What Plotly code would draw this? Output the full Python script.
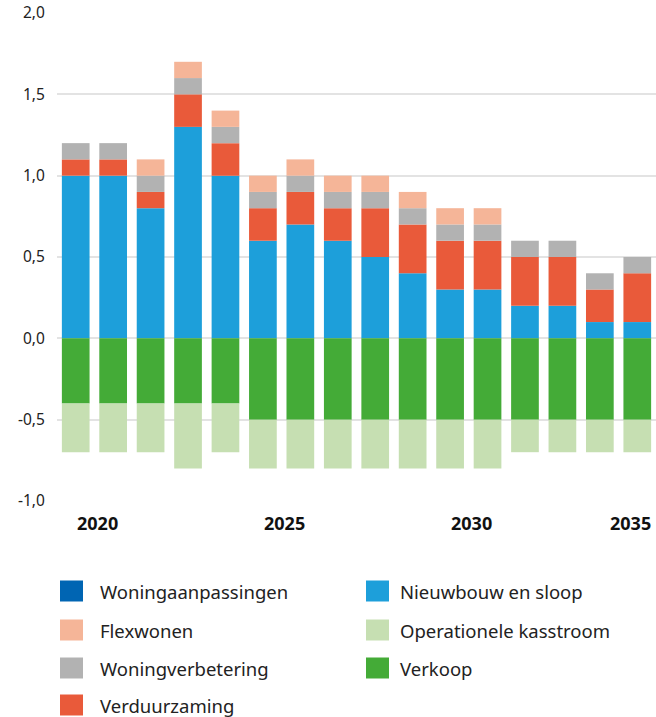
import plotly.graph_objects as go

jaren = list(range(2020, 2036))

nieuwbouw_en_sloop = [1.0, 1.0, 0.8, 1.3, 1.0, 0.6, 0.7, 0.6, 0.5, 0.4, 0.3, 0.3, 0.2, 0.2, 0.1, 0.1]
verduurzaming = [0.1, 0.1, 0.1, 0.2, 0.2, 0.2, 0.2, 0.2, 0.3, 0.3, 0.3, 0.3, 0.3, 0.3, 0.2, 0.3]
woningverbetering = [0.1, 0.1, 0.1, 0.1, 0.1, 0.1, 0.1, 0.1, 0.1, 0.1, 0.1, 0.1, 0.1, 0.1, 0.1, 0.1]
flexwonen = [0.0, 0.0, 0.1, 0.1, 0.1, 0.1, 0.1, 0.1, 0.1, 0.1, 0.1, 0.1, 0.0, 0.0, 0.0, 0.0]
woningaanpassingen = [0.0] * 16
verkoop = [-0.4, -0.4, -0.4, -0.4, -0.4, -0.5, -0.5, -0.5, -0.5, -0.5, -0.5, -0.5, -0.5, -0.5, -0.5, -0.5]
operationele_kasstroom = [-0.3, -0.3, -0.3, -0.4, -0.3, -0.3, -0.3, -0.3, -0.3, -0.3, -0.3, -0.3, -0.2, -0.2, -0.2, -0.2]

x_labels = [2020, 2025, 2030, 2035]
y_ticks = [-1.0, -0.5, 0.0, 0.5, 1.0, 1.5, 2.0]
y_labels = ['-1,0', '-0,5', '0,0', '0,5', '1,0', '1,5', '2,0']

colors = {
    'Woningaanpassingen': '#0065b3',
    'Nieuwbouw en sloop': '#1d9fda',
    'Verduurzaming': '#e95a3a',
    'Woningverbetering': '#b2b2b2',
    'Flexwonen': '#f5b598',
    'Verkoop': '#44ab37',
    'Operationele kasstroom': '#c6dfb2',
}

# stapelvolgorde, van de nullijn af
series = [
    ('Nieuwbouw en sloop', nieuwbouw_en_sloop),
    ('Woningaanpassingen', woningaanpassingen),
    ('Verduurzaming', verduurzaming),
    ('Woningverbetering', woningverbetering),
    ('Flexwonen', flexwonen),
    ('Verkoop', verkoop),
    ('Operationele kasstroom', operationele_kasstroom),
]

legenda_links = ['Woningaanpassingen', 'Flexwonen', 'Woningverbetering', 'Verduurzaming']
legenda_rechts = ['Nieuwbouw en sloop', 'Operationele kasstroom', 'Verkoop']

W, H = 656, 717
L, R, T, B = 57, 0, 13, 216
font = "Noto Sans"

fig = go.Figure()
for naam, waarden in series:
    fig.add_trace(go.Bar(x=jaren, y=waarden, name=naam, showlegend=False,
                         marker=dict(color=colors[naam], line=dict(width=0))))

fig.update_layout(
    width=W, height=H,
    barmode='relative', bargap=0.26,
    paper_bgcolor='white', plot_bgcolor='white',
    margin=dict(l=L, r=R, t=T, b=B, autoexpand=False),
    font=dict(family=font, color='#222222'),
    showlegend=False,
    xaxis=dict(range=[2019.5, 2035.5], showticklabels=False, showgrid=False,
               zeroline=False, ticks=''),
    yaxis=dict(range=[-1, 2], tickvals=y_ticks, ticktext=y_labels, showgrid=True,
               gridcolor='#e3e3e3', gridwidth=1.5, zeroline=True,
               zerolinecolor='#e3e3e3', zerolinewidth=1.5,
               tickfont=dict(size=15.5, color='#222222'),
               ticks='outside', ticklen=8, tickcolor='rgba(0,0,0,0)'),
)

# jaartallen onder de as
for jaar in x_labels:
    laatste = jaar == x_labels[-1]
    fig.add_annotation(
        x=1 if laatste else jaar, xref='paper' if laatste else 'x',
        xanchor='right' if laatste else 'center', xshift=-3 if laatste else 21.5,
        y=0, yref='paper', yanchor='middle', yshift=-22,
        text='<b>%d</b>' % jaar, showarrow=False,
        font=dict(size=18, color='#111111', family=font))

# legenda in twee kolommen
def px_x(p):
    return (p - L) / (W - L - R)

def px_y(p):
    return (H - B - p) / (H - T - B)

rijen = [591, 630, 668, 705]
for kolom_x, tekst_x, namen in [(60, 100, legenda_links), (366, 400, legenda_rechts)]:
    for rij, naam in zip(rijen, namen):
        fig.add_shape(type='rect', xref='paper', yref='paper',
                      x0=px_x(kolom_x), x1=px_x(kolom_x + 23),
                      y0=px_y(rij + 10.5), y1=px_y(rij - 10.5),
                      fillcolor=colors[naam], line=dict(width=0))
        fig.add_annotation(x=px_x(tekst_x - 2), y=px_y(rij), xref='paper', yref='paper',
                           xanchor='left', yanchor='middle', text=naam, showarrow=False,
                           font=dict(size=18.5, color='#222222', family=font))

fig.write_html("out.html", config={'displayModeBar': False},
               post_script="document.body.style.margin='0';")
